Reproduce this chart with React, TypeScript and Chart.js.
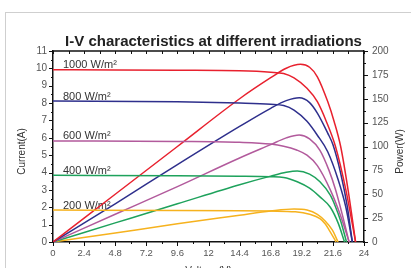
import React, { useEffect, useRef } from "react";
import { Chart, registerables } from "chart.js";

Chart.register(...registerables);

// ---------- data ----------
const chartTitle = "I-V characteristics at different irradiations";
const irradianceLabels = ["1000 W/m²", "800 W/m²", "600 W/m²", "400 W/m²", "200 W/m²"];
const seriesColors = ["#e8212e", "#2e2f8c", "#b25a9c", "#1ea25c", "#f6b21e"];

// I-V curves (voltage V, current A)
const iv1000V = [0, 4.8, 9.6, 14.4, 16.8, 17.8, 18.6, 19.6, 20.4, 21.1, 21.8, 22.6, 23.35];
const iv1000A = [9.92, 9.91, 9.89, 9.86, 9.78, 9.7, 9.45, 8.85, 8.08, 6.93, 5.5, 3.0, 0];
const iv800V = [0, 9.6, 14.4, 16.8, 17.8, 18.6, 19.6, 20.4, 21.2, 22.0, 22.6, 23.1];
const iv800A = [8.12, 8.08, 8.0, 7.93, 7.86, 7.6, 6.95, 6.15, 5.2, 3.6, 2.0, 0];
const iv600V = [0, 9.6, 14.4, 16.8, 17.8, 18.8, 19.6, 20.4, 21.4, 22.2, 22.85];
const iv600A = [5.82, 5.79, 5.74, 5.64, 5.52, 5.3, 5.0, 4.4, 3.0, 1.5, 0];
const iv400V = [0, 9.6, 14.4, 16.8, 17.8, 18.85, 19.8, 20.6, 21.4, 22.0, 22.5];
const iv400A = [3.84, 3.82, 3.79, 3.76, 3.72, 3.47, 3.1, 2.6, 2.0, 1.1, 0];
const iv200V = [0, 9.6, 14.4, 16.8, 18.7, 19.8, 20.6, 21.0, 21.3, 21.85];
const iv200A = [1.84, 1.82, 1.8, 1.78, 1.74, 1.6, 1.35, 1.05, 0.7, 0];

// P-V curves (voltage V, power W)
const pv1000V = [0, 4.8, 9.6, 14.4, 16.8, 18.0, 19.1, 19.8, 20.4, 21.2, 21.7, 22.2, 22.8, 23.35];
const pv1000W = [0, 50, 100, 150, 172, 182, 186, 183, 173, 147, 126, 100, 52, 0];
const pv800V = [0, 4.8, 9.6, 14.4, 16.8, 18.0, 19.0, 19.8, 20.4, 21.2, 21.6, 22.2, 22.7, 23.1];
const pv800W = [0, 40, 81, 121, 140, 148, 151, 146, 135, 114, 102, 72, 38, 0];
const pv600V = [0, 4.8, 9.6, 14.4, 16.8, 18.0, 19.0, 19.8, 20.6, 21.3, 21.8, 22.3, 22.85];
const pv600W = [0, 29, 58, 88, 102, 109, 112, 108, 96, 75, 55, 30, 0];
const pv400V = [0, 4.8, 9.6, 14.4, 16.8, 18.0, 18.85, 19.8, 20.6, 21.4, 21.8, 22.2, 22.65];
const pv400W = [0, 20, 40, 60, 69, 73, 74.4, 71, 63, 49, 37, 22, 0];
const pv200V = [0, 4.8, 9.6, 14.4, 16.8, 18.6, 19.6, 20.4, 21.0, 21.55, 22.0];
const pv200W = [0, 9.5, 19, 28, 32.5, 34.6, 33.5, 29, 22, 12.6, 0];

// axes
const xTickValues = [0, 2.4, 4.8, 7.2, 9.6, 12, 14.4, 16.8, 19.2, 21.6, 24];
const xTickLabels = ["0", "2.4", "4.8", "7.2", "9.6", "12", "14.4", "16.8", "19.2", "21.6", "24"];
const currentTicks = [0, 1, 2, 3, 4, 5, 6, 7, 8, 9, 10, 11];
const powerTicks = [0, 25, 50, 75, 100, 125, 150, 175, 200];
const xTitle = "Voltage(V)";
const yTitle = "Current(A)";
const y1Title = "Power(W)";

const ivSets = [
  [iv1000V, iv1000A],
  [iv800V, iv800A],
  [iv600V, iv600A],
  [iv400V, iv400A],
  [iv200V, iv200A],
];
const pvSets = [
  [pv1000V, pv1000W],
  [pv800V, pv800W],
  [pv600V, pv600W],
  [pv400V, pv400W],
  [pv200V, pv200W],
];

const FONT = '"Liberation Sans", Arial, sans-serif';
const W = 411;
const H = 281;
const AREA_LEFT = 53;
const AREA_RIGHT = 364;
const AREA_BOTTOM = 242;
const PAD_LEFT = 16;

const toPts = (xs: number[], ys: number[]) => xs.map((x, i) => ({ x, y: ys[i] }));

const decor = {
  id: "decor",
  beforeDatasetsDraw(chart: any) {
    const { ctx, chartArea, scales } = chart;
    ctx.save();
    ctx.font = `11px ${FONT}`;
    ctx.fillStyle = "#333";
    ctx.textAlign = "left";
    ctx.textBaseline = "alphabetic";
    irradianceLabels.forEach((lab, k) => {
      const y = scales.y.getPixelForValue(ivSets[k][1][0]);
      ctx.fillText(lab, chartArea.left + 10, y - 1.5);
    });
    ctx.restore();
  },
  afterDraw(chart: any) {
    const { ctx, chartArea, scales } = chart;
    const { left, right, top, bottom } = chartArea;
    ctx.save();
    ctx.strokeStyle = "#111";
    ctx.lineWidth = 1;
    const line = (x1: number, y1: number, x2: number, y2: number) => {
      ctx.beginPath();
      ctx.moveTo(x1, y1);
      ctx.lineTo(x2, y2);
      ctx.stroke();
    };
    // x ticks (bottom outward, top inward)
    xTickValues.forEach((v, i) => {
      const x = Math.round(scales.x.getPixelForValue(v)) + 0.5;
      line(x, bottom, x, bottom + 4);
      line(x, top, x, top + 3);
      if (i < xTickValues.length - 1) {
        const xm = Math.round(scales.x.getPixelForValue((v + xTickValues[i + 1]) / 2)) + 0.5;
        line(xm, bottom, xm, bottom + 2);
        line(xm, top, xm, top + 3);
      }
    });
    // left ticks
    currentTicks.forEach((v, i) => {
      const y = Math.round(scales.y.getPixelForValue(v)) + 0.5;
      line(left - 4, y, left, y);
      if (i < currentTicks.length - 1) {
        const ym = Math.round(scales.y.getPixelForValue((v + currentTicks[i + 1]) / 2)) + 0.5;
        line(left - 2, ym, left, ym);
      }
    });
    // right ticks
    powerTicks.forEach((v, i) => {
      const y = Math.round(scales.y1.getPixelForValue(v)) + 0.5;
      line(right, y, right + 4, y);
      if (i < powerTicks.length - 1) {
        const ym = Math.round(scales.y1.getPixelForValue((v + powerTicks[i + 1]) / 2)) + 0.5;
        line(right, ym, right + 2, ym);
      }
    });
    // top border
    ctx.lineWidth = 1.5;
    line(left, top, right, top);
    // rotated axis titles
    ctx.fillStyle = "#333";
    ctx.font = `10px ${FONT}`;
    ctx.textAlign = "center";
    ctx.textBaseline = "middle";
    const midY = (top + bottom) / 2 + 5;
    ctx.save();
    ctx.translate(22, midY);
    ctx.rotate(-Math.PI / 2);
    ctx.fillText(yTitle, 0, 0);
    ctx.restore();
    ctx.save();
    ctx.translate(400, midY);
    ctx.rotate(-Math.PI / 2);
    ctx.fillText(y1Title, 0, 0);
    ctx.restore();
    ctx.restore();
  },
};

export default function App() {
  const ref = useRef<HTMLCanvasElement | null>(null);

  useEffect(() => {
    if (!ref.current) return;
    const datasets: any[] = [];
    ivSets.forEach((s, k) => {
      datasets.push({
        label: irradianceLabels[k] + " I",
        data: toPts(s[0], s[1]),
        yAxisID: "y",
        borderColor: seriesColors[k],
        borderWidth: 1.5,
        pointRadius: 0,
        fill: false,
        cubicInterpolationMode: "monotone",
      });
    });
    pvSets.forEach((s, k) => {
      datasets.push({
        label: irradianceLabels[k] + " P",
        data: toPts(s[0], s[1]),
        yAxisID: "y1",
        borderColor: seriesColors[k],
        borderWidth: 1.5,
        pointRadius: 0,
        fill: false,
        cubicInterpolationMode: "monotone",
      });
    });

    const chart = new Chart(ref.current, {
      type: "line",
      data: { datasets },
      plugins: [decor],
      options: {
        animation: false,
        responsive: false,
        devicePixelRatio: 1,
        layout: { padding: { left: PAD_LEFT, right: 0, top: 0, bottom: 0 } },
        plugins: {
          legend: { display: false },
          tooltip: { enabled: false },
          title: {
            display: true,
            text: chartTitle,
            color: "#222",
            font: { family: FONT, size: 15, weight: "bold" },
            padding: { top: 33, bottom: 0 },
          },
        },
        scales: {
          x: {
            type: "linear",
            min: 0,
            max: 24,
            afterBuildTicks: (scale: any) => {
              scale.ticks = xTickValues.map((v) => ({ value: v }));
            },
            afterFit: (scale: any) => {
              scale.height = H - AREA_BOTTOM;
            },
            ticks: {
              autoSkip: false,
              maxRotation: 0,
              padding: 2,
              color: "#555",
              font: { family: FONT, size: 9.5 },
              callback: (_v: any, i: number) => xTickLabels[i],
            },
            grid: { drawOnChartArea: false, drawTicks: true, tickLength: 4, tickColor: "rgba(0,0,0,0)" },
            border: { display: true, color: "#111", width: 1.5 },
            title: {
              display: true,
              text: xTitle,
              color: "#333",
              font: { family: FONT, size: 10 },
              padding: { top: 0, bottom: 4 },
            },
          },
          y: {
            type: "linear",
            position: "left",
            min: 0,
            max: 11,
            afterBuildTicks: (scale: any) => {
              scale.ticks = currentTicks.map((v) => ({ value: v }));
            },
            afterFit: (scale: any) => {
              scale.width = AREA_LEFT - PAD_LEFT;
            },
            ticks: {
              padding: 2,
              color: "#555",
              font: { family: FONT, size: 10 },
              callback: (v: any) => String(v),
            },
            grid: { drawOnChartArea: false, drawTicks: true, tickLength: 4, tickColor: "rgba(0,0,0,0)" },
            border: { display: true, color: "#111", width: 1.5 },
          },
          y1: {
            type: "linear",
            position: "right",
            min: 0,
            max: 200,
            afterBuildTicks: (scale: any) => {
              scale.ticks = powerTicks.map((v) => ({ value: v }));
            },
            afterFit: (scale: any) => {
              scale.width = W - AREA_RIGHT;
            },
            ticks: {
              padding: 4,
              color: "#555",
              font: { family: FONT, size: 10 },
              callback: (v: any) => String(v),
            },
            grid: { drawOnChartArea: false, drawTicks: true, tickLength: 4, tickColor: "rgba(0,0,0,0)" },
            border: { display: true, color: "#111", width: 1.5 },
          },
        },
      } as any,
    });
    return () => chart.destroy();
  }, []);

  return (
    <div style={{ position: "absolute", left: 0, top: 0, width: W, height: 268, overflow: "hidden", background: "#fff" }}>
      <div
        style={{
          position: "absolute",
          left: 5,
          top: 12,
          width: 500,
          height: 400,
          borderLeft: "1px solid #cfcfcf",
          borderTop: "1px solid #cfcfcf",
        }}
      />
      <canvas ref={ref} width={W} height={H} style={{ position: "absolute", left: 0, top: 0, display: "block" }} />
    </div>
  );
}
